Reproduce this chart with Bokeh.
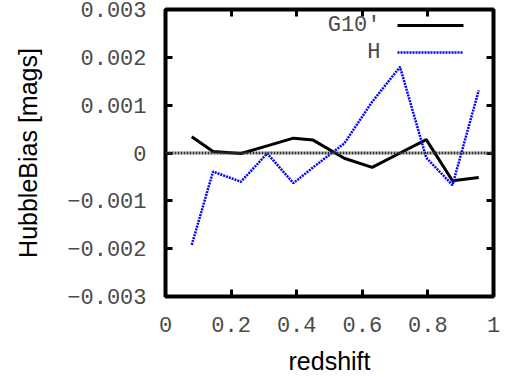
from bokeh.plotting import figure
from bokeh.models import (ColumnDataSource, Span, Label, Arrow, FixedTicker,
                          CustomJSTickFormatter, LinearAxis, Range1d)
from bokeh.embed import file_html
from bokeh.resources import INLINE

# Hubble-diagram bias per redshift bin for two scatter models
redshift = [0.08, 0.145, 0.23, 0.31, 0.39, 0.45, 0.545, 0.63, 0.715, 0.795, 0.875, 0.955]
bias_g10p = [0.00034, 0.00003, -0.00001, 0.00015, 0.00031, 0.00027, -0.00011, -0.00030,
             0.00000, 0.00028, -0.00058, -0.00051]
bias_h = [-0.00192, -0.00039, -0.00060, -0.00001, -0.00063, -0.00030, 0.00020, 0.00107,
          0.00180, -0.00010, -0.00067, 0.00131]

series_names = ["G10\u2032", "H"]
x_ticks = [0, 0.2, 0.4, 0.6, 0.8, 1.0]
y_ticks = [-0.003, -0.002, -0.001, 0, 0.001, 0.002, 0.003]

MONO = "Liberation Mono"
SANS = "Liberation Sans"
TICK_COLOR = "#4a4a4a"

p = figure(width=505, height=377, output_backend="svg", toolbar_location=None,
           x_range=Range1d(0, 1), y_range=Range1d(-0.003, 0.003),
           min_border_left=165, min_border_right=12, min_border_top=9, min_border_bottom=81)
p.background_fill_color = "white"
p.border_fill_color = "white"
p.grid.visible = False
p.outline_line_color = "black"
p.outline_line_width = 4

x_fmt = CustomJSTickFormatter(code="return (tick == 0 || tick == 1) ? tick.toFixed(0) : tick.toFixed(1);")
y_fmt = CustomJSTickFormatter(code="""
    if (Math.abs(tick) < 1e-12) { return "0"; }
    return (tick < 0 ? "\\u2212" : "") + Math.abs(tick).toFixed(3);
""")

def style_axis(ax, ticks, fmt, show_labels):
    ax.ticker = FixedTicker(ticks=ticks)
    ax.formatter = fmt
    ax.axis_line_color = None
    ax.major_tick_in = 7
    ax.major_tick_out = 0
    ax.major_tick_line_width = 3
    ax.major_tick_line_color = "black"
    ax.minor_tick_line_color = None
    if show_labels:
        ax.major_label_text_font = MONO
        ax.major_label_text_font_size = "22px"
        ax.major_label_text_color = TICK_COLOR
    else:
        ax.major_label_text_font_size = "0px"
        ax.major_label_standoff = 0
        ax.major_label_text_alpha = 0

xa = p.xaxis[0]
ya = p.yaxis[0]
style_axis(xa, x_ticks, x_fmt, True)
style_axis(ya, y_ticks, y_fmt, True)
xa.major_label_standoff = 20
ya.major_label_standoff = 19
xa.axis_label = "redshift"
ya.axis_label = "HubbleBias [mags]"
for ax in (xa, ya):
    ax.axis_label_text_font = SANS
    ax.axis_label_text_font_size = "25px"
    ax.axis_label_text_font_style = "normal"
    ax.axis_label_text_color = "black"
xa.axis_label_standoff = 12
ya.axis_label_standoff = 22

top = LinearAxis()
right = LinearAxis()
style_axis(top, x_ticks, x_fmt, False)
style_axis(right, y_ticks, y_fmt, False)
p.add_layout(top, "above")
p.add_layout(right, "right")

# zero reference line
p.add_layout(Span(location=0, dimension="width", line_color="#333333",
                  line_width=3, line_dash="2 1"))

src = ColumnDataSource(dict(z=redshift, g=bias_g10p, h=bias_h))
p.line("z", "g", source=src, line_color="black", line_width=3)
p.line("z", "h", source=src, line_color="#0000ff", line_width=2.5, line_dash="2 1")

# key in the upper right: label to the left of its line sample
key_styles = [dict(line_color="black", line_width=3, line_dash="solid"),
              dict(line_color="#0000ff", line_width=2.5, line_dash="2 1")]
frame_h = 377 - 9 - 81
for i, (name, st) in enumerate(zip(series_names, key_styles)):
    ys = frame_h - 16 - i * 27
    p.add_layout(Label(x=215, y=ys, x_units="screen", y_units="screen", text=name,
                       text_font=MONO, text_font_size="22px", text_color=TICK_COLOR,
                       text_align="right", text_baseline="middle"))
    p.add_layout(Arrow(x_start=232, x_end=298, y_start=ys, y_end=ys,
                       start_units="screen", end_units="screen", end=None, **st))

open("out.html", "w").write(file_html(p, INLINE))
